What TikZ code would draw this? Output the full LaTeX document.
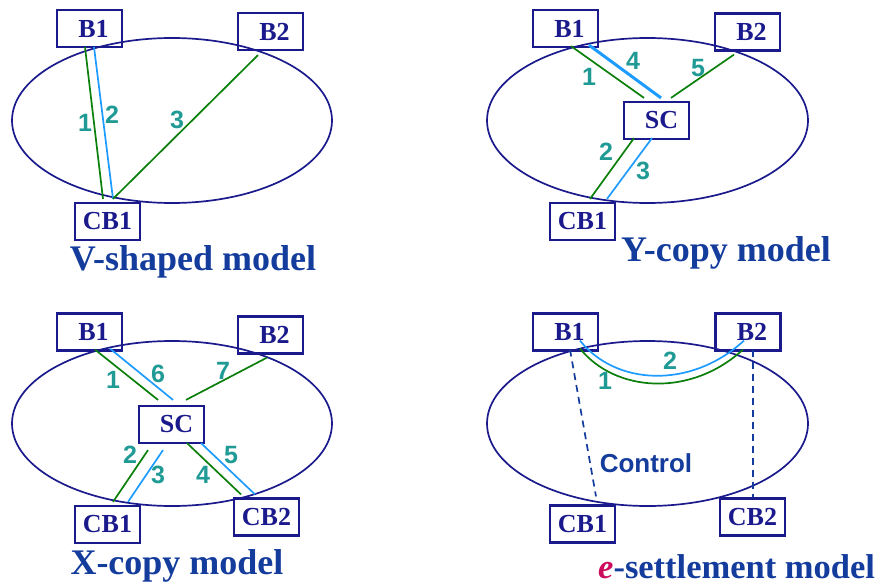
\documentclass[tikz,border=0pt]{standalone}
\usepackage{fontspec}
\setmainfont{Liberation Serif}
\newfontfamily\sansf{Liberation Sans}
\usetikzlibrary{calc}
\definecolor{navy}{HTML}{1A1A8C}
\definecolor{ttl}{HTML}{143C9C}
\definecolor{grn}{HTML}{0A7F0A}
\definecolor{blu}{HTML}{1E9BFF}
\definecolor{tea}{HTML}{1F9A94}
\definecolor{emag}{HTML}{CC0A5E}
\tikzset{
  box/.style={draw=navy, line width=2.2pt, minimum width=65pt, minimum height=37pt, inner sep=0pt,
    text=navy, font=\fontsize{26}{26}\selectfont\bfseries},
  oval/.style={draw=navy, line width=1.7pt},
  gline/.style={draw=grn, line width=1.7pt},
  bline/.style={draw=blu, line width=1.7pt},
  bthick/.style={draw=blu, line width=3pt},
  dline/.style={draw=ttl, line width=1.7pt, dashed, dash pattern=on 7pt off 5pt},
  num/.style={text=tea, font=\sansf\fontsize{25}{25}\selectfont\bfseries, inner sep=0pt},
  title/.style={text=ttl, font=\fontsize{36}{36}\selectfont\bfseries, inner sep=0pt},
}
\begin{document}
\begin{tikzpicture}[x=1pt,y=-1pt]
\useasboundingbox (0,0) rectangle (894,586);
% ---------- V-shaped ----------
\draw[oval] (172,120.5) ellipse [x radius=160, y radius=82.5];
\node[box] (vB1) at (89.5,28.5) {\hspace{8pt}B1};
\node[box] (vB2) at (270.5,31.5) {\hspace{8pt}B2};
\node[box] (vCB1) at (107.5,221.5) {CB1};
\draw[gline] ($(vB1.south)+(-4.5,-1)$) -- ($(vCB1.north)+(-4.5,-3)$);
\draw[bline] ($(vB1.south)+(4.5,-1)$) -- ($(vCB1.north)+(5.5,-3)$);
\draw[gline] ($(vCB1.north)+(5.5,-3)$) -- ($(vB2.south)+(-12.5,4)$);
\node[num] (v1) at (85,123) {1};
\node[num] (v2) at (112,115) {2};
\node[num] (v3) at (177,120) {3};
\node[title] (vt) at (193,262) {V-shaped model};
% ---------- Y-copy ----------
\draw[oval] (647.5,120.5) ellipse [x radius=160.5, y radius=82.5];
\node[box] (yB1) at (565.5,28.5) {\hspace{8pt}B1};
\node[box] (yB2) at (747.5,32) {\hspace{8pt}B2};
\node[box] (ySC) at (656.5,120.5) {\hspace{10pt}SC};
\node[box] (yCB1) at (582.5,221.5) {CB1};
\draw[gline] ($(yB1.south)+(5.5,-2)$) -- ($(ySC.north)+(-12.5,-3)$);
\draw[bthick] ($(yB1.south)+(23.5,-3)$) -- ($(ySC.north)+(4.5,-3)$);
\draw[gline] ($(yB2.south)+(-13.5,3)$) -- ($(ySC.north)+(14.5,-3)$);
\draw[gline] ($(ySC.south)+(-22.5,-2)$) -- ($(yCB1.north)+(7.5,-3)$);
\draw[bline] ($(ySC.south)+(-4.5,-2)$) -- ($(yCB1.north)+(24.5,-3)$);
\node[num] (y1) at (589,77) {1};
\node[num] (y4) at (633,61) {4};
\node[num] (y5) at (698,68) {5};
\node[num] (y2) at (606,152) {2};
\node[num] (y3) at (643,171) {3};
\node[title] (yt) at (726,253) {Y-copy model};
% ---------- X-copy ----------
\draw[oval] (172,423.5) ellipse [x radius=160, y radius=82.5];
\node[box] (xB1) at (89.5,332) {\hspace{8pt}B1};
\node[box] (xB2) at (270.5,335) {\hspace{8pt}B2};
\node[box] (xSC) at (171.5,424.5) {\hspace{10pt}SC};
\node[box] (xCB1) at (107.5,524.5) {CB1};
\node[box] (xCB2) at (266.5,517) {CB2};
\draw[gline] ($(xB1.south)+(5.5,-2)$) -- ($(xSC.north)+(-13.5,-5)$);
\draw[bline] ($(xB1.south)+(20.5,-3)$) -- ($(xSC.north)+(1.5,-5)$);
\draw[gline] ($(xB2.south)+(-3.5,3)$) -- ($(xSC.north)+(14.5,-5)$);
\draw[gline] ($(xSC.south)+(-23.5,6)$) -- ($(xCB1.north)+(5.5,-3)$);
\draw[bline] ($(xSC.south)+(-8.5,6)$) -- ($(xCB1.north)+(20.5,-3)$);
\draw[gline] ($(xSC.south)+(15.5,-1)$) -- ($(xCB2.north)+(-25.5,-3)$);
\draw[bline] ($(xSC.south)+(29.5,-1)$) -- ($(xCB2.north)+(-11.5,-3)$);
\node[num] (x1) at (113,380) {1};
\node[num] (x6) at (158,374) {6};
\node[num] (x7) at (223,371) {7};
\node[num] (x2) at (130,455) {2};
\node[num] (x3) at (158,475) {3};
\node[num] (x4) at (203,475) {4};
\node[num] (x5) at (231,455) {5};
\node[title] (xt) at (177,566) {X-copy model};
% ---------- e-settlement ----------
\draw[oval] (647.5,423.5) ellipse [x radius=160.5, y radius=82.5];
\node[box] (eB1) at (565.5,332) {\hspace{8pt}B1};
\node[box] (eB2) at (748,332) {\hspace{8pt}B2};
\node[box] (eCB1) at (582.5,524) {CB1};
\node[box] (eCB2) at (752.5,517) {CB2};
\draw[dline] ($(eB1.south)+(4.5,-2)$) -- ($(eCB1.north)+(13.5,-8)$);
\draw[dline] ($(eB2.south)+(5,-2)$) -- ($(eCB2.north)+(0.5,0)$);
\draw[bline] ($(eB1.south)+(14.5,-11)$) .. controls (615,385) and (690,390) .. ($(eB2.south)+(-4,-11)$);
\draw[gline] ($(eB1.south)+(14.5,-3)$) .. controls (615,392) and (690,398) .. ($(eB2.south)+(-5,-2)$);
\node[num] (e1) at (605,381) {1};
\node[num] (e2) at (670,361) {2};
\node[text=ttl, font=\sansf\fontsize{26}{26}\selectfont\bfseries, inner sep=0pt] (ctl) at (646,463) {Control};
\node[title, font=\fontsize{34.5}{34.5}\selectfont\bfseries, anchor=west] (et) at (598,567) {\textcolor{emag}{\textit{e}}-settlement model};
\end{tikzpicture}
\end{document}
